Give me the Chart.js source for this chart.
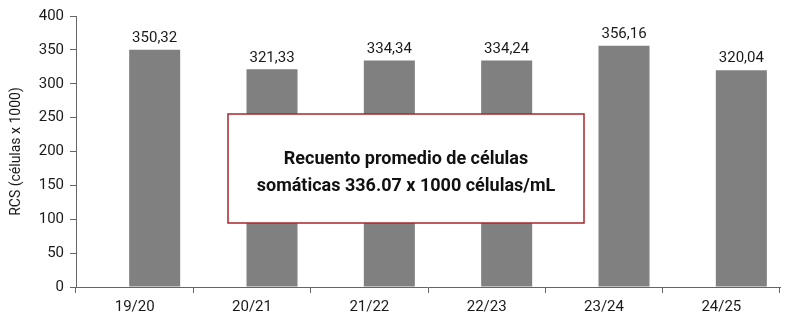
<!DOCTYPE html>
<html>
<head>
<meta charset="utf-8">
<script src="https://cdn.jsdelivr.net/npm/chart.js@4/dist/chart.umd.min.js"></script>
<style>
  html, body { margin: 0; padding: 0; background: #fff; }
  #wrap { width: 790px; height: 322px; }
</style>
</head>
<body>
<div id="wrap"><canvas id="rcs-chart" width="790" height="322"></canvas></div>
<script>
// Data
const seasons = ['19/20', '20/21', '21/22', '22/23', '23/24', '24/25'];
const emptySeries = [0, 0, 0, 0, 0, 0];
const rcsValues = [350.32, 321.33, 334.34, 334.24, 356.16, 320.04];
const yTicks = [0, 50, 100, 150, 200, 250, 300, 350, 400];
const noteLines = ['Recuento promedio de células', 'somáticas 336.07 x 1000 células/mL'];

const fontFamily = "Roboto, 'Noto Sans', sans-serif";

// Value labels above the grey bars
const valueLabels = {
    id: 'valueLabels',
    afterDatasetsDraw(chart) {
        const ctx = chart.ctx;
        const meta = chart.getDatasetMeta(1);
        ctx.save();
        ctx.font = '15px ' + fontFamily;
        ctx.fillStyle = '#1a1a1a';
        ctx.textAlign = 'center';
        ctx.textBaseline = 'bottom';
        meta.data.forEach((bar, i) => {
            ctx.fillText(rcsValues[i].toFixed(2).replace('.', ','), bar.x, bar.y - 4);
        });
        ctx.restore();
    }
};

// Framed note in the middle of the plot
const noteBox = {
    id: 'noteBox',
    afterDraw(chart) {
        const ctx = chart.ctx;
        const x = 228, y = 114, w = 356, h = 109;
        ctx.save();
        ctx.fillStyle = '#ffffff';
        ctx.fillRect(x, y, w, h);
        ctx.strokeStyle = '#a8262b';
        ctx.lineWidth = 1.5;
        ctx.strokeRect(x, y, w, h);
        ctx.font = 'bold 18px ' + fontFamily;
        ctx.fillStyle = '#111';
        ctx.textAlign = 'center';
        ctx.textBaseline = 'alphabetic';
        ctx.fillText(noteLines[0], x + w / 2, 164);
        ctx.fillText(noteLines[1], x + w / 2, 191);
        ctx.restore();
    }
};

const ctx = document.getElementById('rcs-chart').getContext('2d');
const rcsChart = new Chart(ctx, {
    type: 'bar',
    data: {
        labels: seasons,
        datasets: [{
            data: emptySeries,
            backgroundColor: '#555555'
        }, {
            data: rcsValues,
            backgroundColor: '#808080'
        }]
    },
    options: {
        responsive: false,
        animation: false,
        layout: { padding: { top: 16, right: 10, bottom: 0, left: 0 } },
        categoryPercentage: 0.682,
        barPercentage: 1.275,
        plugins: {
            legend: { display: false },
            tooltip: { enabled: false }
        },
        scales: {
            x: {
                offset: true,
                grid: {
                    offset: true,
                    drawOnChartArea: false,
                    tickLength: 6,
                    color: '#666'
                },
                border: { color: '#666', width: 1 },
                ticks: {
                    color: '#1a1a1a',
                    font: { family: fontFamily, size: 15 },
                    padding: 5
                },
                afterFit(scale) { scale.height = 35; }
            },
            y: {
                min: 0,
                max: 400,
                afterBuildTicks(scale) { scale.ticks = yTicks.map(v => ({ value: v })); },
                grid: {
                    drawOnChartArea: false,
                    tickLength: 6,
                    color: '#666'
                },
                border: { color: '#666', width: 1 },
                ticks: {
                    color: '#1a1a1a',
                    font: { family: fontFamily, size: 15 },
                    padding: 6
                },
                title: {
                    display: true,
                    text: 'RCS (células x 1000)',
                    color: '#1a1a1a',
                    font: { family: fontFamily, size: 14 },
                    padding: { top: 8, bottom: 0 }
                },
                afterFit(scale) { scale.width = 76; }
            }
        }
    },
    plugins: [valueLabels, noteBox]
});
</script>
</body>
</html>
